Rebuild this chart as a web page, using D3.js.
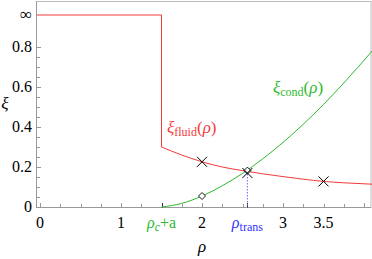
<!DOCTYPE html>
<html>
<head>
<meta charset="utf-8">
<script src="https://cdn.jsdelivr.net/npm/d3@7"></script>
<style>
  body { margin: 0; background: #fff; }
</style>
</head>
<body>
<div id="chart"></div>
<script>
// values
const rhoC = 1.5,          // rho_c + a
      rhoTrans = 2.56,
      infValue = 0.96;     // where the "infinity" level sits on the y scale

const fluidPts = [[1.5, 0.30], [1.75, 0.26], [2, 0.226], [2.25, 0.2], [2.5, 0.182],
                  [2.75, 0.166], [3, 0.152], [3.25, 0.139], [3.5, 0.128],
                  [3.75, 0.121], [4.1, 0.114]];
const condPts = [[1.5, 0], [1.75, 0.018], [2, 0.055], [2.25, 0.106], [2.5, 0.168],
                 [2.75, 0.241], [3, 0.323], [3.25, 0.414], [3.5, 0.513],
                 [3.75, 0.62], [4.1, 0.78]];
const crossPts = [[2, 0.226], [rhoTrans, 0.17], [3.5, 0.128]];
const diamondPts = [[2, 0.055], [rhoTrans, 0.182]];

const xTickLabels = [[0, "0"], [1, "1"], [2, "2"], [3, "3"], [3.5, "3.5"]];
const yTickLabels = [[0, "0"], [0.2, "0.2"], [0.4, "0.4"], [0.6, "0.6"], [0.8, "0.8"]];

const width = 372, height = 259;
const serif = "Liberation Serif";

const svg = d3.select("#chart").append("svg")
    .attr("width", width)
    .attr("height", height)
    .style("font-family", serif);

const x = d3.scaleLinear().domain([-0.037, 4.086]).range([37, 371]);
const y = d3.scaleLinear().domain([0, 1.03]).range([207, 1]);

const gray = "#999";

// frame
svg.append("rect")
    .attr("x", 36.5).attr("y", 1.5)
    .attr("width", 371 - 36.5).attr("height", 207.5 - 1.5)
    .attr("fill", "none").attr("stroke", "#bbb");
svg.append("line").attr("x1", 36.5).attr("x2", 371).attr("y1", 207.5).attr("y2", 207.5)
    .attr("stroke", gray);
svg.append("line").attr("x1", 36.5).attr("x2", 36.5).attr("y1", 1).attr("y2", 208)
    .attr("stroke", gray);

// x ticks every 0.25
const xt = d3.range(0, 4.01, 0.25);
svg.selectAll(".xt").data(xt).join("line")
    .attr("x1", d => Math.round(x(d)) + 0.5).attr("x2", d => Math.round(x(d)) + 0.5)
    .attr("y1", 207.5).attr("y2", d => d % 1 === 0 ? 203 : 204)
    .attr("stroke", gray);
// dark ticks at rho_c+a and rho_trans
svg.selectAll(".xt2").data([rhoC, rhoTrans]).join("line")
    .attr("x1", d => Math.round(x(d)) + 0.5).attr("x2", d => Math.round(x(d)) + 0.5)
    .attr("y1", 207.5).attr("y2", 203)
    .attr("stroke", "#333");

// y ticks every 0.05
const yt = d3.range(0, 0.81, 0.05);
svg.selectAll(".yt").data(yt).join("line")
    .attr("x1", 36.5).attr("x2", (d, i) => i % 4 === 0 ? 41 : 40)
    .attr("y1", d => Math.round(y(d)) + 0.5).attr("y2", d => Math.round(y(d)) + 0.5)
    .attr("stroke", gray);

// tick labels
svg.selectAll(".xl").data(xTickLabels).join("text")
    .attr("x", d => x(d[0])).attr("y", 228)
    .attr("text-anchor", "middle").attr("font-size", 16)
    .text(d => d[1]);
svg.selectAll(".yl").data(yTickLabels).join("text")
    .attr("x", 32).attr("y", d => y(d[0]) + 5)
    .attr("text-anchor", "end").attr("font-size", 16)
    .text(d => d[1]);
svg.append("text").attr("x", 32).attr("y", y(infValue) + 5)
    .attr("text-anchor", "end").attr("font-size", 17).text("\u221e");

// axis titles
svg.append("text").attr("x", x(2)).attr("y", 252).attr("text-anchor", "middle")
    .attr("font-size", 17).attr("font-style", "italic").text("\u03c1");
svg.append("text").attr("x", 5).attr("y", 109).attr("text-anchor", "middle")
    .attr("font-size", 17).attr("font-style", "italic").text("\u03be");

// special x labels
const lc = svg.append("text").attr("x", x(rhoC)).attr("y", 228)
    .attr("text-anchor", "middle").attr("font-size", 16).attr("fill", "#2fb82f");
lc.append("tspan").attr("font-style", "italic").text("\u03c1");
lc.append("tspan").attr("font-style", "italic").attr("font-size", 12).attr("dy", 3).text("c");
lc.append("tspan").attr("dy", -3).text("+a");

const lt = svg.append("text").attr("x", x(rhoTrans)).attr("y", 228)
    .attr("text-anchor", "middle").attr("font-size", 16).attr("fill", "#3333ff");
lt.append("tspan").attr("font-style", "italic").text("\u03c1");
lt.append("tspan").attr("font-size", 12).attr("dy", 3).text("trans");

// dotted line at rho_trans
svg.append("line")
    .attr("x1", x(rhoTrans)).attr("x2", x(rhoTrans))
    .attr("y1", y(0.18)).attr("y2", 207)
    .attr("stroke", "#6666ff").attr("stroke-dasharray", "1.5,1.5");

// curves
const line = d3.line().x(d => x(d[0])).y(d => y(d[1])).curve(d3.curveMonotoneX);

const fluidStep = [[-0.037, infValue], [rhoC, infValue], [rhoC, fluidPts[0][1]]];
svg.append("path").datum(fluidStep)
    .attr("d", d3.line().x(d => x(d[0])).y(d => y(d[1])))
    .attr("fill", "none").attr("stroke", "#f23a3a").attr("stroke-width", 1);
svg.append("path").datum(fluidPts)
    .attr("d", line)
    .attr("fill", "none").attr("stroke", "#f23a3a").attr("stroke-width", 1);
svg.append("path").datum(condPts)
    .attr("d", line)
    .attr("fill", "none").attr("stroke", "#2fb82f").attr("stroke-width", 1);

// markers
svg.selectAll(".dm").data(diamondPts).join("path")
    .attr("transform", d => `translate(${x(d[0])},${y(d[1])})`)
    .attr("d", "M0,-3.5L3.5,0L0,3.5L-3.5,0Z")
    .attr("fill", "#fff").attr("stroke", "#000").attr("stroke-width", 0.9);
svg.selectAll(".cx").data(crossPts).join("path")
    .attr("transform", d => `translate(${x(d[0])},${y(d[1])})`)
    .attr("d", "M-5,-5L5,5M-5,5L5,-5")
    .attr("stroke", "#000").attr("stroke-width", 1);

// curve labels
const lf = svg.append("text").attr("x", 167).attr("y", 133)
    .attr("font-size", 17).attr("fill", "#f23a3a");
lf.append("tspan").attr("font-style", "italic").text("\u03be");
lf.append("tspan").attr("font-size", 12).attr("dy", 3).text("fluid");
lf.append("tspan").attr("dy", -3).text("(");
lf.append("tspan").attr("font-style", "italic").text("\u03c1");
lf.append("tspan").text(")");

const lcd = svg.append("text").attr("x", 273).attr("y", 93)
    .attr("font-size", 17).attr("fill", "#2fb82f");
lcd.append("tspan").attr("font-style", "italic").text("\u03be");
lcd.append("tspan").attr("font-size", 12).attr("dy", 3).text("cond");
lcd.append("tspan").attr("dy", -3).text("(");
lcd.append("tspan").attr("font-style", "italic").text("\u03c1");
lcd.append("tspan").text(")");
</script>
</body>
</html>
